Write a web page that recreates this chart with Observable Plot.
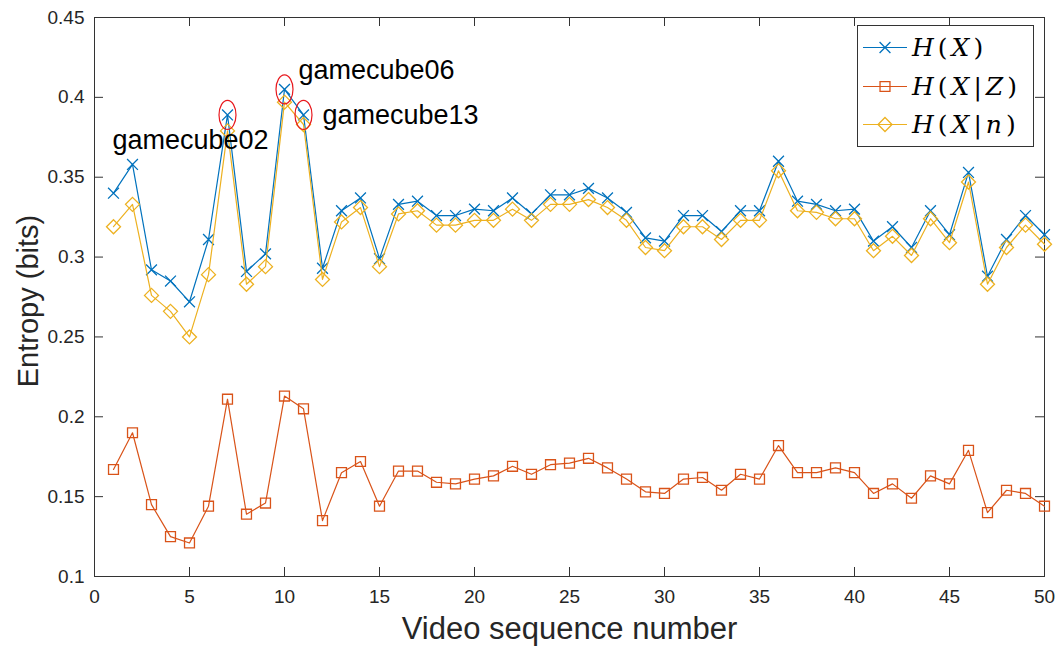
<!DOCTYPE html>
<html>
<head>
<meta charset="utf-8">
<script src="https://cdn.jsdelivr.net/npm/d3@7"></script>
<script src="https://cdn.jsdelivr.net/npm/@observablehq/plot@0.6"></script>
<style>
  body { margin: 0; background: #fff; }
  #chart { position: relative; width: 1055px; height: 647px; }
  #chart svg { display: block; }
</style>
</head>
<body>
<div id="chart"></div>
<script>
// Video sequence numbers 1..50
const seq = d3.range(1, 51);

// Entropy per sequence (bits)
const hX = [0.340, 0.358, 0.292, 0.285, 0.272, 0.311, 0.389, 0.291, 0.302, 0.405,
            0.389, 0.293, 0.329, 0.337, 0.299, 0.333, 0.335, 0.326, 0.326, 0.330,
            0.329, 0.337, 0.327, 0.339, 0.339, 0.343, 0.337, 0.328, 0.312, 0.310,
            0.326, 0.326, 0.316, 0.329, 0.329, 0.360, 0.335, 0.333, 0.329, 0.330,
            0.310, 0.319, 0.306, 0.329, 0.314, 0.353, 0.288, 0.311, 0.326, 0.314];
const hXZ = [0.167, 0.190, 0.145, 0.125, 0.121, 0.144, 0.211, 0.139, 0.146, 0.213,
             0.205, 0.135, 0.165, 0.172, 0.144, 0.166, 0.166, 0.159, 0.158, 0.161,
             0.163, 0.169, 0.164, 0.170, 0.171, 0.174, 0.168, 0.161, 0.153, 0.152,
             0.161, 0.162, 0.154, 0.164, 0.161, 0.182, 0.165, 0.165, 0.168, 0.165,
             0.152, 0.158, 0.149, 0.163, 0.158, 0.179, 0.140, 0.154, 0.152, 0.144];
const hXn = [0.319, 0.333, 0.276, 0.266, 0.250, 0.289, 0.379, 0.283, 0.294, 0.397,
             0.383, 0.286, 0.322, 0.331, 0.294, 0.327, 0.329, 0.320, 0.320, 0.323,
             0.323, 0.330, 0.323, 0.333, 0.333, 0.336, 0.331, 0.323, 0.306, 0.304,
             0.319, 0.319, 0.311, 0.323, 0.323, 0.354, 0.329, 0.328, 0.324, 0.324,
             0.304, 0.313, 0.301, 0.324, 0.309, 0.347, 0.283, 0.306, 0.320, 0.308];

// Series metadata (legend order)
const seriesValues = [hX, hXZ, hXn];
const seriesColors = ["#0072BD", "#D95319", "#EDB120"];
const seriesSymbols = ["times", "square", "diamond2"];
const seriesRadius = [5, 5.6, 6.3];
// Legend entries: [italic?, text] pieces
const seriesLegend = [
  [[1, "H"], [0, "("], [1, "X"], [0, ")"]],
  [[1, "H"], [0, "("], [1, "X"], [0, "|"], [1, "Z"], [0, ")"]],
  [[1, "H"], [0, "("], [1, "X"], [0, "|"], [1, "n"], [0, ")"]]
];

// Axis ticks
const xTicks = [0, 5, 10, 15, 20, 25, 30, 35, 40, 45, 50];
const yTicks = [0.1, 0.15, 0.2, 0.25, 0.3, 0.35, 0.4, 0.45];
const yTickLabels = ["0.1", "0.15", "0.2", "0.25", "0.3", "0.35", "0.4", "0.45"];

// Highlighted sequences
const circled = [7, 10, 11];
const seqNames = ["gamecube02", "gamecube06", "gamecube13"];

const W = 1055, H = 647;
const M = {top: 17, right: 11, bottom: 71, left: 94};
const innerW = W - M.left - M.right;
const innerH = H - M.top - M.bottom;
const axisColor = "#333333";
const tickLen = 9;

// Ellipse outline used to highlight peaks
const ellipseSymbol = {
  draw(ctx) {
    const a = 8.5, b = 14.5, k = 0.5523;
    ctx.moveTo(a, 0);
    ctx.bezierCurveTo(a, b * k, a * k, b, 0, b);
    ctx.bezierCurveTo(-a * k, b, -a, b * k, -a, 0);
    ctx.bezierCurveTo(-a, -b * k, -a * k, -b, 0, -b);
    ctx.bezierCurveTo(a * k, -b, a, -b * k, a, 0);
    ctx.closePath();
  }
};

const seriesMarks = seriesValues.flatMap((vals, s) => {
  const rows = seq.map((n, i) => ({n, v: vals[i]}));
  return [
    Plot.line(rows, {x: "n", y: "v", stroke: seriesColors[s], strokeWidth: 1.2}),
    Plot.dot(rows, {x: "n", y: "v", stroke: seriesColors[s], fill: "none",
                    symbol: seriesSymbols[s], r: seriesRadius[s], strokeWidth: 1.3})
  ];
});

const peakRows = circled.map((n, i) => ({n, v: hX[n - 1], name: seqNames[i]}));

const chart = Plot.plot({
  width: W, height: H,
  marginTop: M.top, marginRight: M.right, marginBottom: M.bottom, marginLeft: M.left,
  style: {fontFamily: "'Liberation Sans', Arial, Helvetica, sans-serif", fontSize: "19px",
          background: "#fff", color: "#262626"},
  x: {domain: [0, 50]},
  y: {domain: [0.1, 0.45]},
  marks: [
    // tick labels
    Plot.axisX(xTicks, {tickSize: 0, tickPadding: 13, fontSize: 19, label: null, tickFormat: d => d}),
    Plot.axisY(yTicks, {tickSize: 0, tickPadding: 10, fontSize: 19, label: null,
                        tickFormat: d => yTickLabels[yTicks.indexOf(d)]}),
    // inward ticks on all four sides
    Plot.tickX(xTicks, {x: d => d, insetTop: innerH - tickLen, stroke: axisColor}),
    Plot.tickX(xTicks, {x: d => d, insetBottom: innerH - tickLen, stroke: axisColor}),
    Plot.tickY(yTicks, {y: d => d, insetRight: innerW - tickLen, stroke: axisColor}),
    Plot.tickY(yTicks, {y: d => d, insetLeft: innerW - tickLen, stroke: axisColor}),
    Plot.frame({stroke: axisColor, strokeWidth: 1}),
    // axis titles
    Plot.text(["Video sequence number"], {frameAnchor: "bottom", dy: 53, fontSize: 31,
                                          textAnchor: "middle", lineAnchor: "middle", fill: "#262626"}),
    Plot.text(["Entropy (bits)"], {frameAnchor: "left", dx: -66, dy: 4, rotate: -90, fontSize: 29,
                                   textAnchor: "middle", lineAnchor: "middle", fill: "#262626"}),
    ...seriesMarks,
    // highlighted peaks
    Plot.dot(peakRows, {x: "n", y: "v", symbol: ellipseSymbol, stroke: "#E8191E",
                        fill: "none", strokeWidth: 1.2}),
    Plot.text(peakRows.filter(d => d.n === 7), {x: "n", y: "v", text: "name", textAnchor: "end",
              lineAnchor: "bottom", dx: 41, dy: 34, fontSize: 27, fill: "#000"}),
    Plot.text(peakRows.filter(d => d.n === 10), {x: "n", y: "v", text: "name", textAnchor: "start",
              lineAnchor: "bottom", dx: 14, dy: -10, fontSize: 27, fill: "#000"}),
    Plot.text(peakRows.filter(d => d.n === 11), {x: "n", y: "v", text: "name", textAnchor: "start",
              lineAnchor: "bottom", dx: 19, dy: 9, fontSize: 27, fill: "#000"})
  ]
});

const root = document.getElementById("chart");
root.appendChild(chart);

// Legend box in the upper right corner of the axes
const lg = d3.select(root).append("svg")
  .attr("width", W).attr("height", H)
  .style("position", "absolute").style("left", "0px").style("top", "0px")
  .style("pointer-events", "none");
const box = {x: 857, y: 25, w: 176, h: 121};
lg.append("rect").attr("x", box.x + 0.5).attr("y", box.y + 0.5)
  .attr("width", box.w).attr("height", box.h)
  .attr("fill", "#fff").attr("stroke", axisColor).attr("stroke-width", 1);
const d3Symbols = {times: d3.symbolTimes, square: d3.symbolSquare, diamond2: d3.symbolDiamond2};
const rowY = [47, 86, 124];
seriesLegend.forEach((parts, s) => {
  const g = lg.append("g").attr("transform", `translate(0,${rowY[s]})`);
  g.append("line").attr("x1", 863).attr("x2", 907).attr("y1", 0.5).attr("y2", 0.5)
    .attr("stroke", seriesColors[s]).attr("stroke-width", 1.2);
  const r = seriesRadius[s];
  g.append("path").attr("transform", "translate(885,0.5)")
    .attr("d", d3.symbol(d3Symbols[seriesSymbols[s]], Math.PI * r * r)())
    .attr("fill", "none").attr("stroke", seriesColors[s]).attr("stroke-width", 1.3);
  const t = g.append("text").attr("x", 912).attr("dy", "0.35em")
    .attr("font-family", "'DejaVu Serif', 'Liberation Serif', serif")
    .attr("font-size", 25).attr("letter-spacing", "4px").attr("fill", "#000");
  parts.forEach(([it, str]) => {
    t.append("tspan").attr("font-style", it ? "italic" : "normal").text(str);
  });
});
</script>
</body>
</html>
